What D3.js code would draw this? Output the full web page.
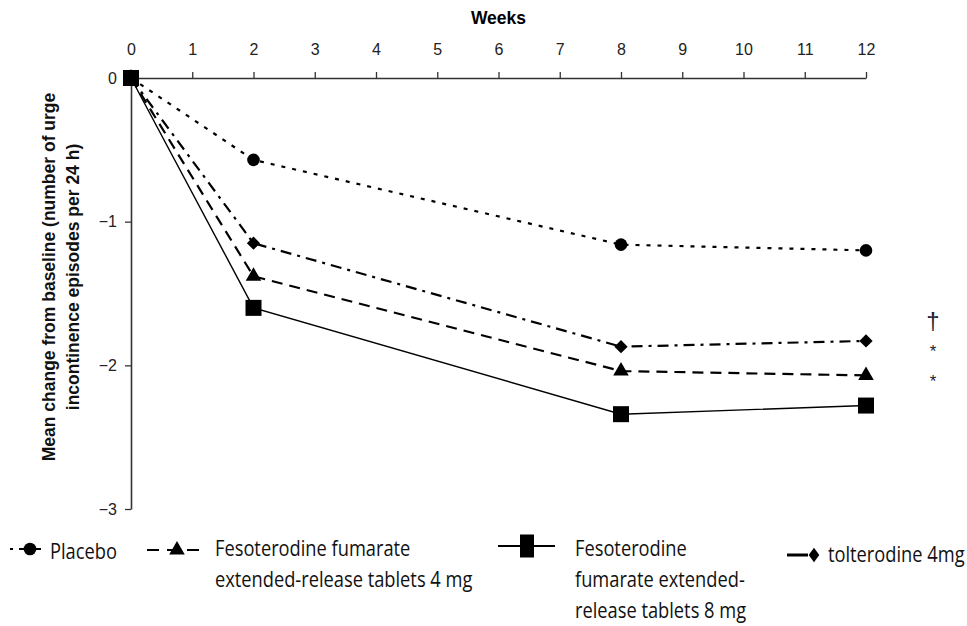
<!DOCTYPE html>
<html>
<head>
<meta charset="utf-8">
<script src="https://cdn.jsdelivr.net/npm/d3@7"></script>
<style>
  body { margin: 0; background: #fff; }
  svg { display: block; }
</style>
</head>
<body>
<svg id="chart" width="967" height="626"></svg>
<script>
// Weeks at which the outcome was measured
const weeks = [0, 2, 8, 12];
// Mean change from baseline in urge incontinence episodes per 24 h
const placebo = [0, -0.57, -1.16, -1.20];
const feso4 = [0, -1.38, -2.04, -2.07];
const feso8 = [0, -1.60, -2.34, -2.28];
const tolterodine = [0, -1.15, -1.87, -1.83];
const xTicks = d3.range(0, 13);
const yTicks = [0, -1, -2, -3];

const diamond = d3.symbolSquare;
const series = [
  { name: "placebo", values: placebo, dash: "4,7", width: 2.2, symbol: d3.symbolCircle, size: 125, rot: 0 },
  { name: "tolterodine", values: tolterodine, dash: "11,6,3,6", width: 2.2, symbol: diamond, size: 88, rot: 45 },
  { name: "feso4", values: feso4, dash: "11,7", width: 2.2, symbol: d3.symbolTriangle, size: 105, rot: 0 },
  { name: "feso8", values: feso8, dash: null, width: 1.4, symbol: d3.symbolSquare, size: 256, rot: 0 }
];

const svg = d3.select("#chart");
const font = "'Liberation Sans', Arial, sans-serif";
const legendFont = "'Open Sans', 'Noto Sans', sans-serif";

const x = d3.scaleLinear().domain([0, 12]).range([131, 866]);
const y = d3.scaleLinear().domain([0, -3]).range([78, 509]);

// Top x axis
const xAxis = svg.append("g")
  .attr("transform", `translate(0,${y(0)})`)
  .call(d3.axisTop(x).tickValues(xTicks).tickSize(6).tickPadding(17).tickSizeOuter(0));
xAxis.select(".domain").attr("stroke", "#333").attr("stroke-width", 1.6);
xAxis.selectAll(".tick line").attr("stroke", "#333").attr("stroke-width", 1.3);
xAxis.selectAll(".tick text").attr("font-family", font).attr("font-size", 16).attr("fill", "#222");

// Left y axis
const yAxis = svg.append("g")
  .attr("transform", `translate(${x(0)},0)`)
  .call(d3.axisLeft(y).tickValues(yTicks).tickFormat(d3.format("d")).tickSize(6).tickPadding(8).tickSizeOuter(0));
yAxis.select(".domain").attr("stroke", "#333").attr("stroke-width", 1.6);
yAxis.selectAll(".tick line").attr("stroke", "#333").attr("stroke-width", 1.3);
yAxis.selectAll(".tick text").attr("font-family", font).attr("font-size", 16).attr("fill", "#222");
yAxis.selectAll(".tick").filter(d => d === 0).select("line").remove();

// Axis titles
svg.append("text")
  .attr("x", (x(0) + x(12)) / 2).attr("y", 24)
  .attr("text-anchor", "middle")
  .attr("font-family", font).attr("font-weight", "bold").attr("font-size", 17.5)
  .text("Weeks");

const yTitle = svg.append("text")
  .attr("transform", `translate(0,277) rotate(-90)`)
  .attr("text-anchor", "middle")
  .attr("font-family", font).attr("font-weight", "bold").attr("font-size", 17.5)
  .attr("fill", "#111");
yTitle.append("tspan").attr("x", 0).attr("y", 55).text("Mean change from baseline (number of urge");
yTitle.append("tspan").attr("x", 0).attr("y", 79).text("incontinence episodes per 24 h)");

// Series lines and markers
const line = d3.line().x((d, i) => x(weeks[i])).y(d => y(d));
series.forEach(s => {
  svg.append("path")
    .datum(s.values)
    .attr("d", line)
    .attr("fill", "none")
    .attr("stroke", "#000")
    .attr("stroke-width", s.width)
    .attr("stroke-dasharray", s.dash);
  svg.append("g").selectAll("path")
    .data(s.values)
    .join("path")
    .attr("transform", (d, i) => `translate(${x(weeks[i])},${y(d)}) rotate(${s.rot})`)
    .attr("d", d3.symbol().type(s.symbol).size(s.size))
    .attr("fill", "#000");
});

// Significance markers at week 12
const sig = [
  { text: "\u2020", v: -1.75, size: 24 },
  { text: "*", v: -1.94, size: 17 },
  { text: "*", v: -2.15, size: 17 }
];
svg.append("g").selectAll("text")
  .data(sig)
  .join("text")
  .attr("x", 933).attr("y", d => y(d.v))
  .attr("text-anchor", "middle")
  .attr("font-family", font).attr("font-size", d => d.size)
  .attr("fill", "#223")
  .text(d => d.text);

// Legend
const legend = [
  { s: series[0], x1: 10, x2: 43, mx: 30, my: 549, tx: 50, ty: 559, lines: ["Placebo"] },
  { s: series[2], x1: 147, x2: 206, mx: 177, my: 550, tx: 215, ty: 556, lines: ["Fesoterodine fumarate", "extended-release tablets 4 mg"] },
  { s: series[3], x1: 498, x2: 555, mx: 527, my: 546, tx: 575, ty: 556, lines: ["Fesoterodine", "fumarate extended-", "release tablets 8 mg"] },
  { s: series[1], x1: 787, x2: 808, mx: 814, my: 555, tx: 828, ty: 562, lines: ["tolterodine 4mg"] }
];
legend.forEach(l => {
  const g = svg.append("g");
  const dash = l.s.name === "placebo" ? "3,6,22,6" : (l.s.name === "feso4" ? "12,8" : null);
  g.append("line")
    .attr("x1", l.x1).attr("x2", l.x2).attr("y1", l.my).attr("y2", l.my)
    .attr("stroke", "#000")
    .attr("stroke-width", l.s.name === "tolterodine" ? 3 : 2)
    .attr("stroke-dasharray", dash);
  if (l.s.name === "feso8") {
    // legend key box is drawn taller than wide
    g.append("rect")
      .attr("x", l.mx - 7).attr("y", l.my - 11.5)
      .attr("width", 14).attr("height", 23)
      .attr("fill", "#000");
  } else if (l.s.name === "tolterodine") {
    g.append("path")
      .attr("transform", `translate(${l.mx},${l.my}) scale(0.8,1.1) rotate(45)`)
      .attr("d", d3.symbol().type(l.s.symbol).size(l.s.size))
      .attr("fill", "#000");
  } else {
    g.append("path")
      .attr("transform", `translate(${l.mx},${l.my})`)
      .attr("d", d3.symbol().type(l.s.symbol).size(l.s.size))
      .attr("fill", "#000");
  }
  const t = g.append("text")
    .attr("transform", `translate(${l.tx},${l.ty}) scale(0.85,1)`)
    .attr("font-family", legendFont).attr("font-size", 21.5).attr("fill", "#111");
  l.lines.forEach((ln, i) => {
    t.append("tspan").attr("x", 0).attr("y", i * 31).text(ln);
  });
});
</script>
</body>
</html>
